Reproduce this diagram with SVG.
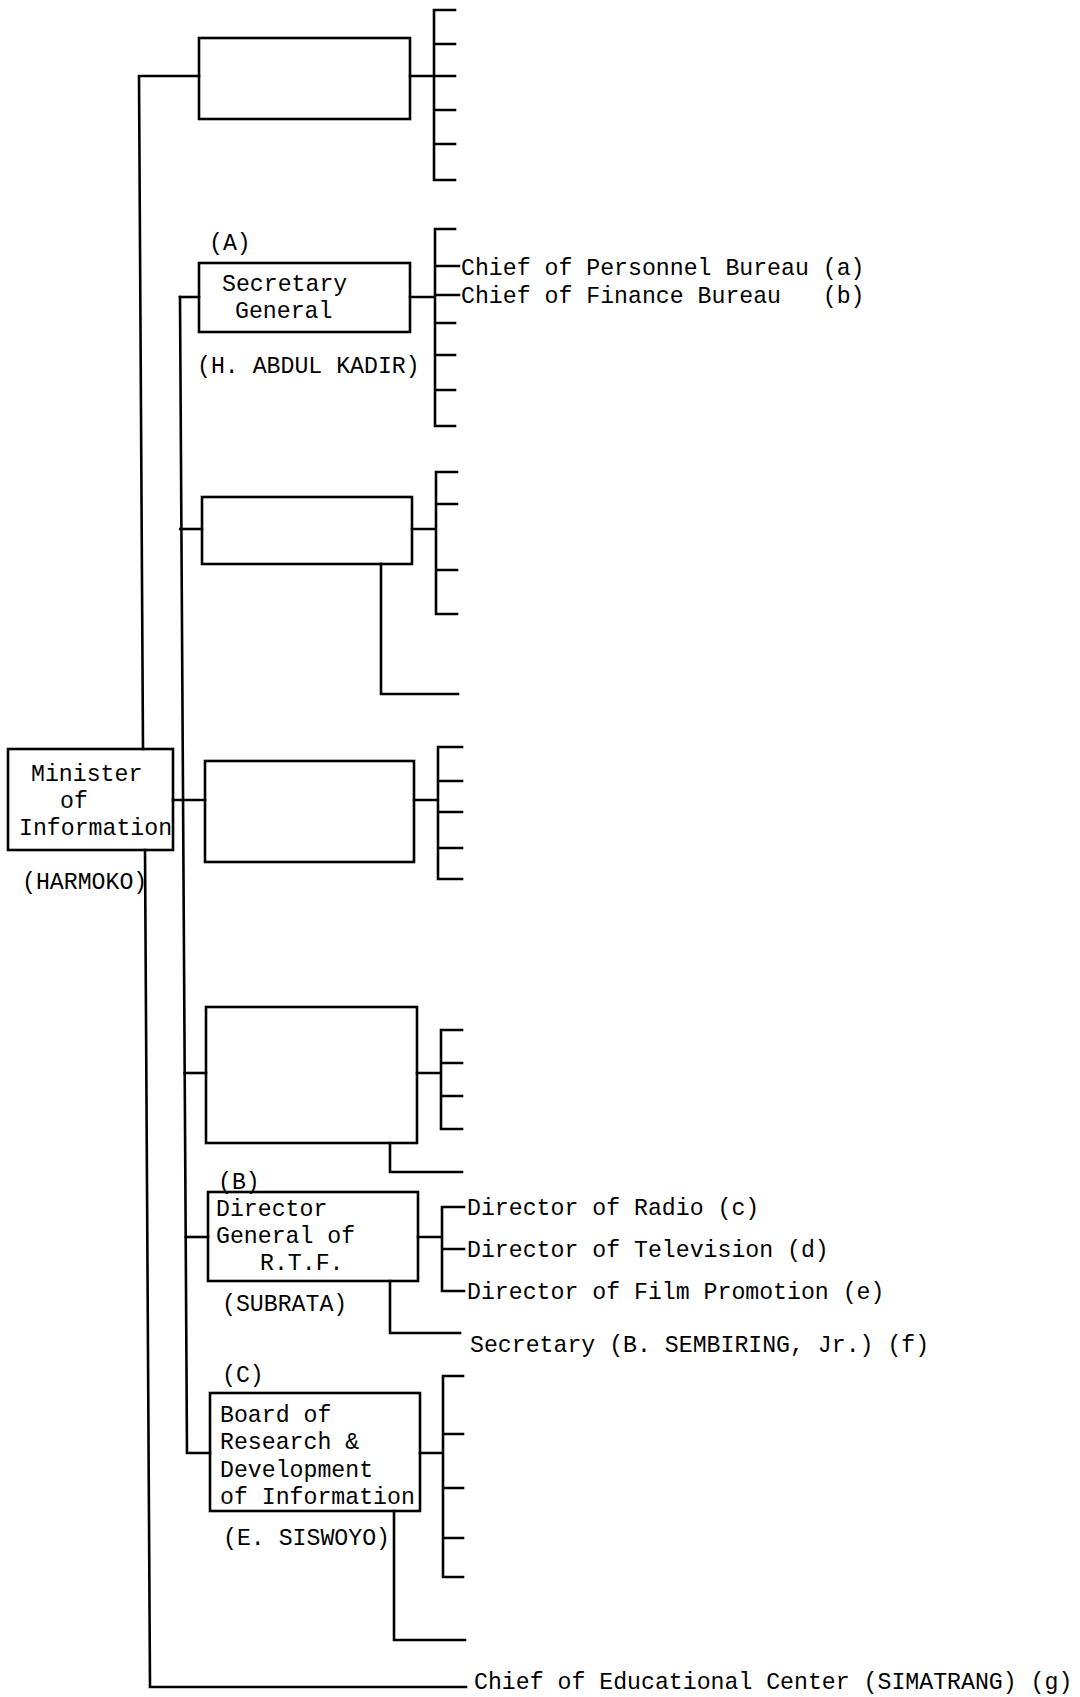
<svg xmlns="http://www.w3.org/2000/svg" width="1080" height="1697" viewBox="0 0 1080 1697">
<style>
.bx{fill:none;stroke:#000;stroke-width:2.6}
.ln{fill:none;stroke:#000;stroke-width:2.6;stroke-linecap:square}
text{font-family:"Liberation Mono","Courier New",monospace;font-size:23.2px;fill:#000;white-space:pre}
</style>
<rect width="1080" height="1697" fill="#fff"/>
<g id="connectors">
<path class="ln" d="M143 749 L139 76 L199 76"/>
<path class="ln" d="M145 850 L150 1687 L466 1687"/>
<path class="ln" d="M180 297 L187 1453 L210 1453"/>
<path class="ln" d="M180 297 H199"/>
<path class="ln" d="M180.3 529 H202"/>
<path class="ln" d="M173 800 H205"/>
<path class="ln" d="M184.6 1073 H206"/>
<path class="ln" d="M185.8 1237 H208"/>
<path class="ln" d="M410 76 H434 M434 10 V180 M434 10 H455 M434 44 H455 M434 76 H455 M434 110 H455 M434 144 H455 M434 180 H455"/>
<path class="ln" d="M410 297 H435 M435 229 V426 M435 229 H455 M435 266 H459 M435 295 H459 M435 323 H455 M435 355 H455 M435 390 H455 M435 426 H455"/>
<path class="ln" d="M412 529 H436 M436 472 V614 M436 472 H457 M436 504 H457 M436 570 H457 M436 614 H457"/>
<path class="ln" d="M381 564 V694 H458"/>
<path class="ln" d="M414 800 H438 M438 747 V879 M438 747 H462 M438 781 H462 M438 812 H462 M438 848 H462 M438 879 H462"/>
<path class="ln" d="M417 1073 H441 M441 1030 V1129 M441 1030 H462 M441 1063 H462 M441 1096 H462 M441 1129 H462"/>
<path class="ln" d="M390 1143 V1172 H462"/>
<path class="ln" d="M418 1237 H442 M442 1207 V1291 M442 1207 H464 M442 1249 H464 M442 1291 H464"/>
<path class="ln" d="M390 1281 V1333 H460"/>
<path class="ln" d="M420 1453 H443 M443 1376 V1577 M443 1376 H463 M443 1434 H463 M443 1488 H463 M443 1538 H463 M443 1577 H463"/>
<path class="ln" d="M394 1511 V1640 H465"/>
</g>
<g id="minister">
<rect class="bx" x="8" y="749" width="165" height="101"/>
<text x="31" y="781">Minister</text>
<text x="60" y="808">of</text>
<text x="19" y="835">Information</text>
<text x="22" y="889">(HARMOKO)</text>
</g>
<g id="box1"><rect class="bx" x="199" y="38" width="211" height="81"/></g>
<g id="secretary-general">
<text x="209" y="250">(A)</text>
<rect class="bx" x="199" y="263" width="211" height="69"/>
<text x="222" y="291">Secretary</text>
<text x="235" y="318">General</text>
<text x="197" y="373">(H. ABDUL KADIR)</text>
</g>
<g id="personnel"><text x="461" y="275">Chief of Personnel Bureau (a)</text></g>
<g id="finance"><text x="461" y="303" xml:space="preserve">Chief of Finance Bureau   (b)</text></g>
<g id="box3"><rect class="bx" x="202" y="497" width="210" height="67"/></g>
<g id="box4"><rect class="bx" x="205" y="761" width="209" height="101"/></g>
<g id="box5"><rect class="bx" x="206" y="1007" width="211" height="136"/></g>
<g id="rtf">
<text x="218" y="1189">(B)</text>
<rect class="bx" x="208" y="1192" width="210" height="89"/>
<text x="216" y="1216">Director</text>
<text x="216" y="1243">General of</text>
<text x="260" y="1270">R.T.F.</text>
<text x="222" y="1311">(SUBRATA)</text>
</g>
<g id="radio"><text x="467" y="1215">Director of Radio (c)</text></g>
<g id="television"><text x="467" y="1257">Director of Television (d)</text></g>
<g id="film"><text x="467" y="1299">Director of Film Promotion (e)</text></g>
<g id="secretary"><text x="470" y="1352">Secretary (B. SEMBIRING, Jr.) (f)</text></g>
<g id="board">
<text x="222" y="1382">(C)</text>
<rect class="bx" x="210" y="1393" width="210" height="118"/>
<text x="220" y="1422">Board of</text>
<text x="220" y="1449">Research &amp;</text>
<text x="220" y="1477">Development</text>
<text x="220" y="1504">of Information</text>
<text x="223" y="1545">(E. SISWOYO)</text>
</g>
<g id="education"><text x="474" y="1689">Chief of Educational Center (SIMATRANG) (g)</text></g>
</svg>
